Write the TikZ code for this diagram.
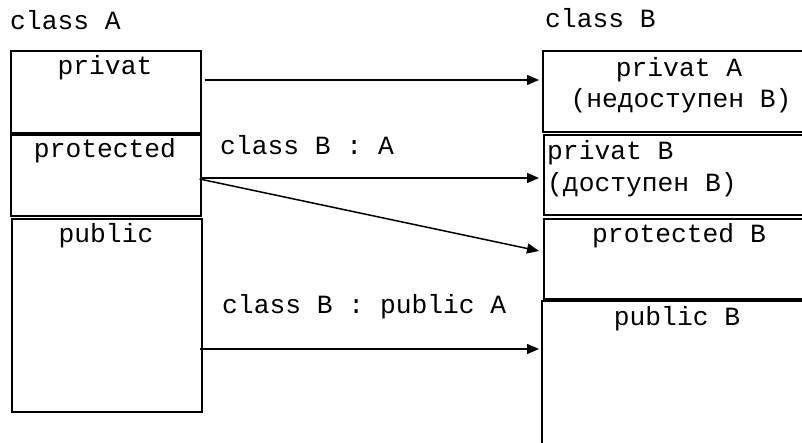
\documentclass[tikz,border=0pt]{standalone}
\usepackage{fontspec}
\setmainfont{Liberation Mono}
\usetikzlibrary{arrows.meta,calc}
\tikzset{
  cell/.style={draw, line width=1.6pt, inner sep=0pt, anchor=north west},
  txt/.style={anchor=base, inner sep=0pt, font=\fontsize{26.3}{30}\selectfont},
  txtl/.style={txt, anchor=base west},
  link/.style={line width=1.5pt, -{Triangle[length=12pt,width=10pt]}},
}
\begin{document}
\begin{tikzpicture}[x=1pt,y=-1pt]
\useasboundingbox (0,0) rectangle (802,443);
\clip (0,0) rectangle (802,443);

% class A
\node[txtl] (titleA) at (10,30) {class A};
\node[cell, minimum width=190pt, minimum height=82pt] (aPriv) at (10,50) {};
\node[cell, minimum width=190pt, minimum height=81pt] (aProt) at (10,134) {};
\node[cell, minimum width=190pt, minimum height=193pt] (aPub) at (11,218) {};
\node[txt] (aPrivT) at (105,75) {privat};
\node[txt] (aProtT) at (105,158) {protected};
\node[txt] (aPubT) at (106,243) {public};

% class B
\node[txtl] (titleB) at (545,28) {class B};
\node[cell, minimum width=272pt, minimum height=81pt] (bPrivA) at (542,50) {};
\node[cell, minimum width=271pt, minimum height=80pt] (bPrivB) at (543,134) {};
\node[cell, minimum width=271pt, minimum height=80pt] (bProt) at (543,218) {};
\node[cell, minimum width=273pt, minimum height=170pt] (bPub) at (541,300) {};
\node[txt] (bPrivAT) at (679,77) {privat A};
\node[txt] (bPrivAT2) at (681,108) {(недоступен B)};
\node[txtl] (bPrivBT) at (547,160) {privat B};
\node[txtl] (bPrivBT2) at (547,192) {(доступен B)};
\node[txt] (bProtT) at (679,243) {protected B};
\node[txt] (bPubT) at (677,325) {public B};

% inheritance labels
\node[txtl] (inhPriv) at (220,155) {class B : A};
\node[txtl] (inhPub) at (222,313) {class B : public A};

% connectors
\draw[link] ($(aPriv.north east)+(3,30)$) -- ($(bPrivA.north west)+(-3,30)$);
\draw[link] ($(aProt.north east)+(-2,44)$) -- ($(bPrivB.north west)+(-4,44)$);
\draw[link] ($(aProt.north east)+(-2,45)$) -- ($(bProt.north west)+(-4,33)$);
\draw[link] ($(aPub.north east)+(-3,131)$) -- ($(bPub.north west)+(-2,49)$);
\end{tikzpicture}
\end{document}
